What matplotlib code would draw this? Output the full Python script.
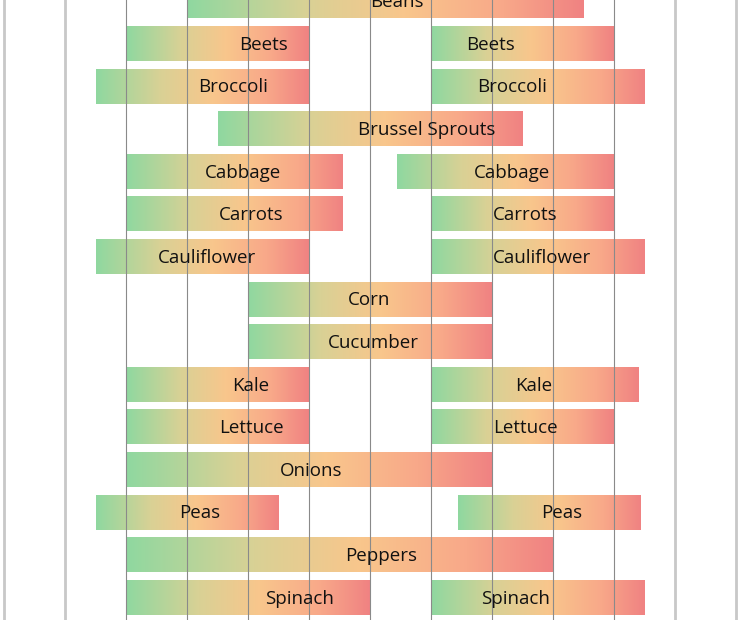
import numpy as np
import matplotlib
matplotlib.use("Agg")
import matplotlib.pyplot as plt
from matplotlib.colors import LinearSegmentedColormap

# planting windows, in grid columns (one column per gridline gap)
crops = ["Beans", "Beets", "Broccoli", "Brussel Sprouts", "Cabbage", "Carrots",
         "Cauliflower", "Corn", "Cucumber", "Kale", "Lettuce", "Onions",
         "Peas", "Peppers", "Spinach"]
start1 = [3.0, 2.0, 1.5, 3.5, 2.0, 2.0, 1.5, 4.0, 4.0, 2.0, 2.0, 2.0, 1.5, 2.0, 2.0]
end1 = [9.5, 5.0, 5.0, 8.5, 5.55, 5.55, 5.0, 8.0, 8.0, 5.0, 5.0, 8.0, 4.5, 9.0, 6.0]
start2 = [None, 7.0, 7.0, None, 6.45, 7.0, 7.0, None, None, 7.0, 7.0, None, 7.45, None, 7.0]
end2 = [None, 10.0, 10.5, None, 10.0, 10.0, 10.5, None, None, 10.4, 10.0, None, 10.45, None, 10.5]
label1 = [6.44, 4.25, 3.75, 6.93, 3.92, 4.05, 3.33, 5.98, 6.05, 4.05, 4.05, 5.03, 3.2, 6.18, 4.84]
label2 = [None, 7.98, 8.33, None, 8.33, 8.54, 8.82, None, None, 8.69, 8.54, None, 9.15, None, 8.39]

cmap = LinearSegmentedColormap.from_list(
    "season", [(0.0, "#8fd8a0"), (0.3, "#d9d195"), (0.55, "#f9c68c"),
               (0.8, "#f8a889"), (1.0, "#f08282")])
grad = np.linspace(0, 1, 256).reshape(1, -1)

fig = plt.figure(figsize=(7.4, 6.2), dpi=100)
ax = fig.add_axes([0, 0, 1, 1])
ax.axis("off")

bar_h = 0.8


def draw_bar(x0, x1, row, label, lx):
    ax.imshow(grad, cmap=cmap, aspect="auto", interpolation="bilinear",
              extent=(x0, x1, row + bar_h / 2, row - bar_h / 2), zorder=1)
    ax.text(lx, row + 0.02, label, ha="center", va="center", fontsize=13.5,
            family="Open Sans", color="#111111", zorder=4)


for i, name in enumerate(crops):
    draw_bar(start1[i], end1[i], i, name, label1[i])
    if start2[i] is not None:
        draw_bar(start2[i], end2[i], i, name, label2[i])

# gridlines drawn over the bars
for g in range(13):
    if g in (0, 1, 11, 12):
        ax.axvline(g, color="#c8c8c8", lw=2, zorder=3)
    else:
        ax.axvline(g, color="#8a8a8a", lw=0.8, zorder=3)

ax.set_xlim(-4 / 61, 736 / 61)
ax.set_ylim((620 - 1.4) / 42.6, -1.4 / 42.6)

fig.savefig("out.png", dpi=100)
